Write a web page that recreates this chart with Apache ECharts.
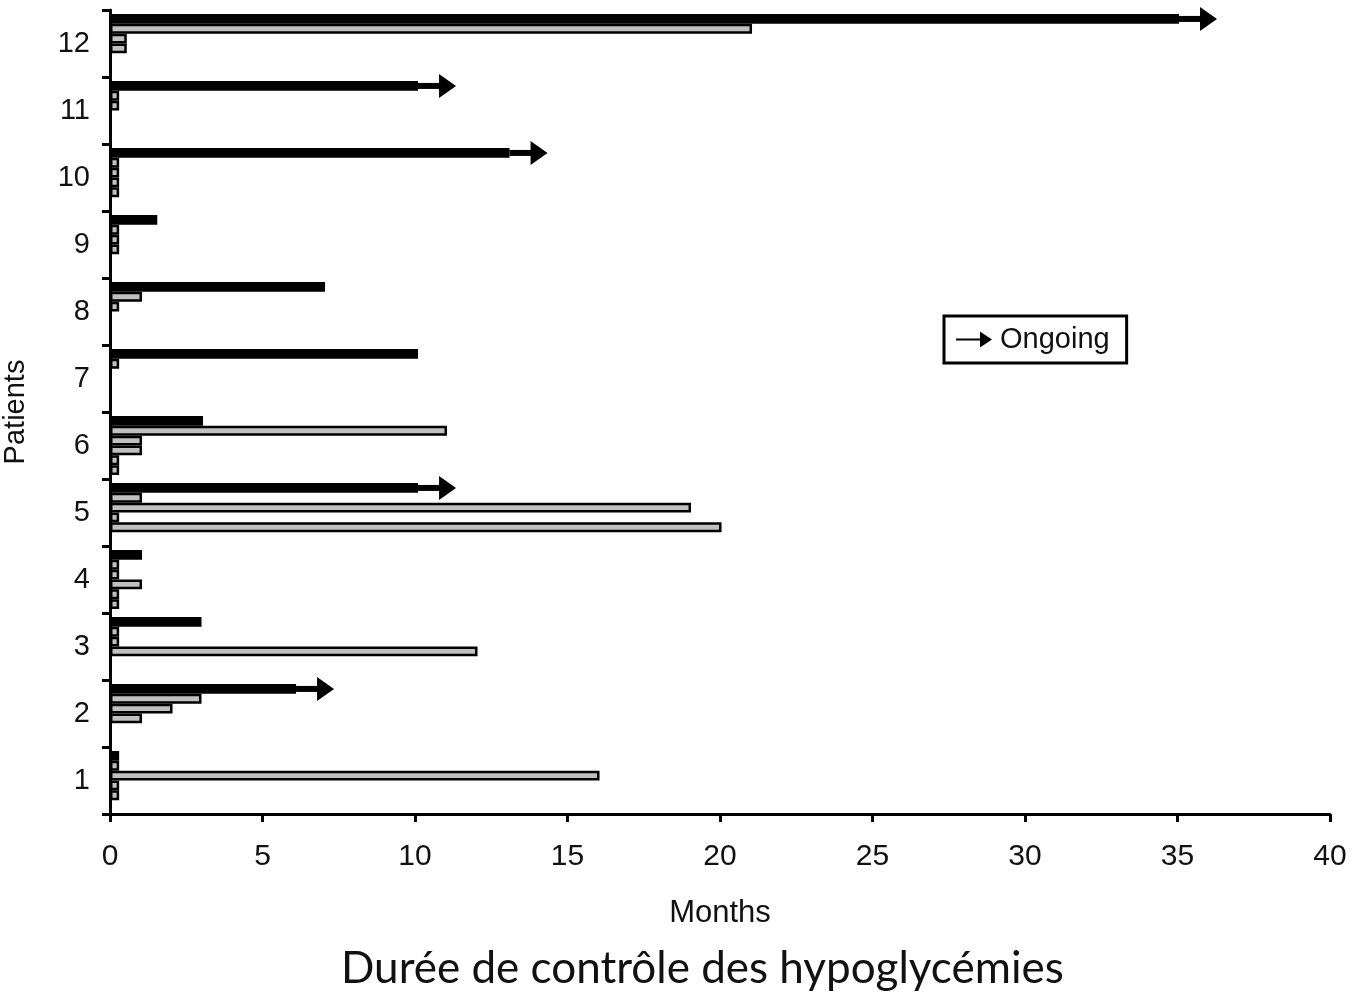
<!DOCTYPE html>
<html>
<head>
<meta charset="utf-8">
<script src="https://cdn.jsdelivr.net/npm/echarts@6/dist/echarts.min.js"></script>
<style>
html,body{margin:0;padding:0;background:#fff;}
#chart{width:1352px;height:994px;}
</style>
</head>
<body>
<div id="chart"></div>
<script>
// ---- data (months) ----
const patients = ['1','2','3','4','5','6','7','8','9','10','11','12'];
const xTicks = [0,5,10,15,20,25,30,35,40];
// black bar: current treatment duration
const current = [0.3, 6.1, 3, 1.05, 10.1, 3.05, 10.1, 7.05, 1.55, 13.1, 10.1, 35.05];
// ongoing treatment (arrow)
const ongoing = [false, true, false, false, true, false, false, false, false, true, true, true];
// previous treatments, in order from top of each patient band
const prev1 = [0.3, 3, 0.3, 0.3, 1.05, 11.05, 0.3, 1.05, 0.3, 0.3, 0.3, 21.05];
const prev2 = [16.05, 2.05, 0.3, 0.3, 19.05, 1.05, null, 0.3, 0.3, 0.3, 0.3, 0.55];
const prev3 = [0.3, 1.05, 12.05, 1.05, 0.3, 1.05, null, null, 0.3, 0.3, null, 0.55];
const prev4 = [0.3, null, null, 0.3, 20.05, 0.3, null, null, null, 0.3, null, null];
const prev5 = [null, null, null, 0.3, null, 0.3, null, null, null, null, null, null];

const NSLOTS = 6;
const GAP = 0.12;
const FONT = '"Liberation Sans", Arial, sans-serif';

const chart = echarts.init(document.getElementById('chart'));

const grayStyle = {color:'#c0c0c0', borderColor:'#000', borderWidth:2.5};
function graySeries(name, data){
  return {name, type:'bar', data, barGap:'0%', barCategoryGap:(GAP*100)+'%',
    itemStyle:grayStyle, silent:true};
}

const arrowData = [];
patients.forEach((p,i)=>{ if (ongoing[i]) arrowData.push([current[i], i]); });

chart.setOption({
  animation:false,
  backgroundColor:'#fff',
  title:{
    text:'Durée de contrôle des hypoglycémies',
    left:336, top:942,
    textStyle:{fontFamily:'Lato, "Open Sans", sans-serif', fontSize:44, fontWeight:'normal', color:'#111'}
  },
  legend:{
    data:[{name:'Ongoing', icon:'path://M0,7L24,7L24,0L36,8L24,16L24,9L0,9Z'}],
    left:944, top:316,
    itemWidth:36, itemHeight:16, itemGap:0,
    padding:[9,17,9,12],
    borderColor:'#000', borderWidth:3, borderRadius:0,
    textStyle:{fontFamily:FONT, fontSize:29, color:'#111', padding:[0,0,0,3]},
    selectedMode:false
  },
  grid:{left:110, right:22, top:10, bottom:180, containLabel:false, outerBoundsMode:'none'},
  xAxis:{
    type:'value', min:0, max:40, interval:5,
    name:'Months', nameLocation:'middle', nameGap:84,
    nameTextStyle:{fontFamily:FONT, fontSize:31, color:'#111'},
    axisLine:{show:true, lineStyle:{color:'#000', width:3}},
    axisTick:{show:true, length:8, lineStyle:{color:'#000', width:3}},
    axisLabel:{fontFamily:FONT, fontSize:30, color:'#111', margin:28,
      formatter:(v)=> xTicks.includes(v) ? String(v) : ''},
    splitLine:{show:false}
  },
  yAxis:{
    type:'category', data:patients, boundaryGap:true,
    name:'Patients', nameLocation:'middle', nameGap:80, nameRotate:90,
    nameTextStyle:{fontFamily:FONT, fontSize:29, color:'#111'},
    axisLine:{show:true, lineStyle:{color:'#000', width:3}},
    axisTick:{show:true, length:8, interval:0, lineStyle:{color:'#000', width:3}},
    axisLabel:{fontFamily:FONT, fontSize:29, color:'#111', margin:20},
    splitLine:{show:false}
  },
  series:[
    {name:'Current', type:'bar', data:current, barGap:'0%', barCategoryGap:(GAP*100)+'%',
      itemStyle:{color:'#000', borderColor:'#000', borderWidth:2}, silent:true},
    graySeries('Previous 1', prev1),
    graySeries('Previous 2', prev2),
    graySeries('Previous 3', prev3),
    graySeries('Previous 4', prev4),
    graySeries('Previous 5', prev5),
    {
      name:'Ongoing', type:'custom', data:arrowData, z:10, silent:true,
      encode:{x:0, y:1},
      itemStyle:{color:'#000'},
      renderItem:function(params, api){
        const v = api.value(0), c = api.value(1);
        const p = api.coord([v, c]);
        const band = api.size([0, 1])[1];
        const cluster = band * (1 - GAP);
        const slot = cluster / NSLOTS;
        const y = p[1] - cluster/2 + slot/2;
        const x = p[0];
        return {type:'group', children:[
          {type:'rect', shape:{x:x, y:y-3, width:24, height:6}, style:{fill:'#000'}},
          {type:'polygon', shape:{points:[[x+21,y-12],[x+38,y],[x+21,y+12]]}, style:{fill:'#000'}}
        ]};
      }
    }
  ]
});
</script>
</body>
</html>
